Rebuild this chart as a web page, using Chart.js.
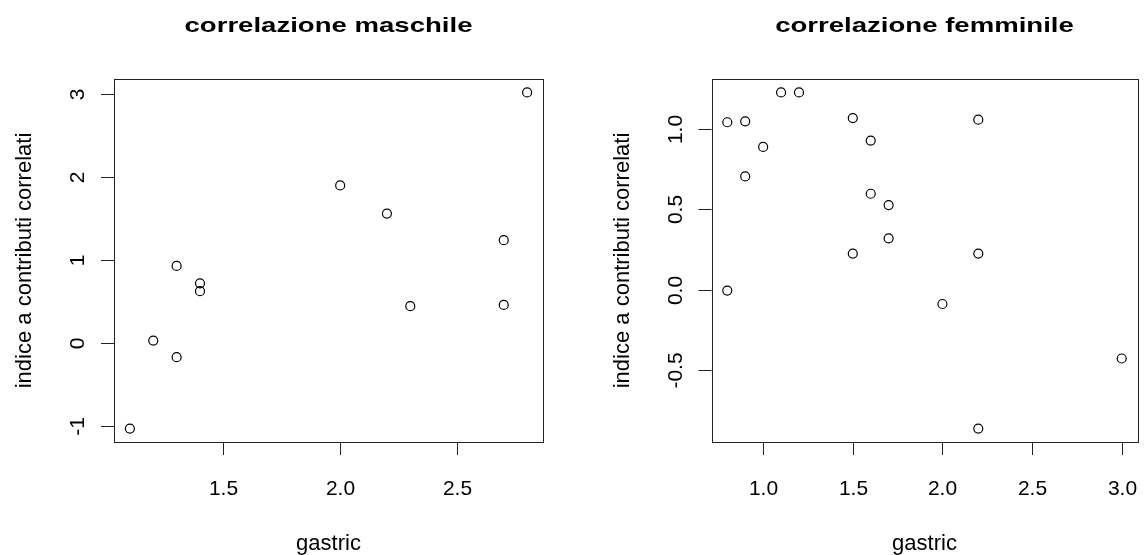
<!DOCTYPE html>
<html>
<head>
<meta charset="utf-8">
<script src="https://cdn.jsdelivr.net/npm/chart.js@4.4.1/dist/chart.umd.min.js"></script>
<style>
  body { margin: 0; background: #fff; }
  canvas { position: absolute; top: 0; }
  #maleChart { left: 0; }
  #femaleChart { left: 573px; }
</style>
</head>
<body>
<canvas id="maleChart" width="573" height="555"></canvas>
<canvas id="femaleChart" width="573" height="555"></canvas>
<script>
// values
var maleX = [1.1, 1.2, 1.3, 1.3, 1.4, 1.4, 2.0, 2.2, 2.3, 2.7, 2.7, 2.8];
var maleY = [-1.03, 0.03, -0.17, 0.93, 0.72, 0.625, 1.90, 1.56, 0.445, 1.24, 0.46, 3.02];

var femaleX = [0.8, 0.8, 0.9, 0.9, 1.0, 1.1, 1.2, 1.5, 1.5, 1.6, 1.6, 1.7, 1.7, 2.0, 2.2, 2.2, 2.2, 3.0];
var femaleY = [1.044, -0.006, 1.05, 0.706, 0.89, 1.23, 1.23, 1.07, 0.225, 0.93, 0.598, 0.527, 0.32, -0.09, 1.06, 0.225, -0.867, -0.43];

var maleXTicks = [1.5, 2.0, 2.5];
var maleXLabels = ["1.5", "2.0", "2.5"];
var maleYTicks = [-1, 0, 1, 2, 3];
var maleYLabels = ["-1", "0", "1", "2", "3"];

var femaleXTicks = [1.0, 1.5, 2.0, 2.5, 3.0];
var femaleXLabels = ["1.0", "1.5", "2.0", "2.5", "3.0"];
var femaleYTicks = [-0.5, 0, 0.5, 1.0];
var femaleYLabels = ["-0.5", "0.0", "0.5", "1.0"];

var xTitle = "gastric";
var yTitle = "indice a contributi correlati";

var FONT = "'Liberation Sans', Arial, sans-serif";

// R pads the data range by 4% on each side
function rRange(arr) {
    var lo = Math.min.apply(null, arr), hi = Math.max.apply(null, arr);
    var pad = (hi - lo) * 0.04;
    return [lo - pad, hi + pad];
}

// draws the base-graphics style box, ticks and labels
var rAxes = {
    id: 'rAxes',
    afterDraw: function (chart, args, opts) {
        var ctx = chart.ctx;
        var area = chart.chartArea;
        var xs = chart.scales.x, ys = chart.scales.y;
        ctx.save();
        ctx.strokeStyle = '#222';
        ctx.lineWidth = 1;
        ctx.strokeRect(Math.round(area.left) + 0.5, Math.round(area.top) + 0.5,
            Math.round(area.right - area.left), Math.round(area.bottom - area.top));

        ctx.fillStyle = '#000';
        ctx.font = '21px ' + FONT;
        ctx.textAlign = 'center';
        ctx.textBaseline = 'alphabetic';

        // x ticks
        opts.xTicks.forEach(function (v, i) {
            var px = Math.round(xs.getPixelForValue(v)) + 0.5;
            ctx.beginPath();
            ctx.moveTo(px, area.bottom);
            ctx.lineTo(px, area.bottom + 13);
            ctx.stroke();
            ctx.fillText(opts.xLabels[i], px, area.bottom + 53);
        });

        // y ticks, labels turned like R's las=0
        opts.yTicks.forEach(function (v, i) {
            var py = Math.round(ys.getPixelForValue(v)) + 0.5;
            ctx.beginPath();
            ctx.moveTo(area.left, py);
            ctx.lineTo(area.left - 13, py);
            ctx.stroke();
            ctx.save();
            ctx.translate(area.left - 30, py);
            ctx.rotate(-Math.PI / 2);
            ctx.fillText(opts.yLabels[i], 0, 0);
            ctx.restore();
        });

        var cx = (area.left + area.right) / 2;
        var cy = (area.top + area.bottom) / 2;

        // axis titles
        ctx.font = '22px ' + FONT;
        ctx.fillText(xTitle, cx, area.bottom + 108);
        ctx.save();
        ctx.translate(area.left - 83, cy);
        ctx.rotate(-Math.PI / 2);
        ctx.fillText(yTitle, 0, 0);
        ctx.restore();

        // main title, stretched a bit wider like the original
        ctx.font = 'bold 21px ' + FONT;
        var sx = 288 / ctx.measureText("correlazione maschile").width;
        ctx.save();
        ctx.translate(cx, 32);
        ctx.scale(sx, 1);
        ctx.fillText(opts.title, 0, 0);
        ctx.restore();

        ctx.restore();
    }
};

function makeChart(id, xData, yData, pad, axes) {
    var xr = rRange(xData), yr = rRange(yData);
    var pts = xData.map(function (x, i) { return { x: x, y: yData[i] }; });
    return new Chart(document.getElementById(id), {
        type: 'scatter',
        data: {
            datasets: [{
                data: pts,
                pointStyle: 'circle',
                pointRadius: 4.5,
                borderWidth: 1.2,
                borderColor: '#000',
                backgroundColor: 'rgba(0,0,0,0)'
            }]
        },
        options: {
            responsive: false,
            animation: false,
            events: [],
            layout: { padding: pad },
            scales: {
                x: { type: 'linear', min: xr[0], max: xr[1], display: false },
                y: { type: 'linear', min: yr[0], max: yr[1], display: false }
            },
            plugins: {
                legend: { display: false },
                tooltip: { enabled: false },
                rAxes: axes
            }
        },
        plugins: [rAxes]
    });
}

makeChart('maleChart', maleX, maleY,
    { left: 114, top: 79, right: 30, bottom: 113 },
    { title: "correlazione maschile", xTicks: maleXTicks, xLabels: maleXLabels, yTicks: maleYTicks, yLabels: maleYLabels });

makeChart('femaleChart', femaleX, femaleY,
    { left: 138.5, top: 79, right: 8.5, bottom: 113 },
    { title: "correlazione femminile", xTicks: femaleXTicks, xLabels: femaleXLabels, yTicks: femaleYTicks, yLabels: femaleYLabels });
</script>
</body>
</html>
